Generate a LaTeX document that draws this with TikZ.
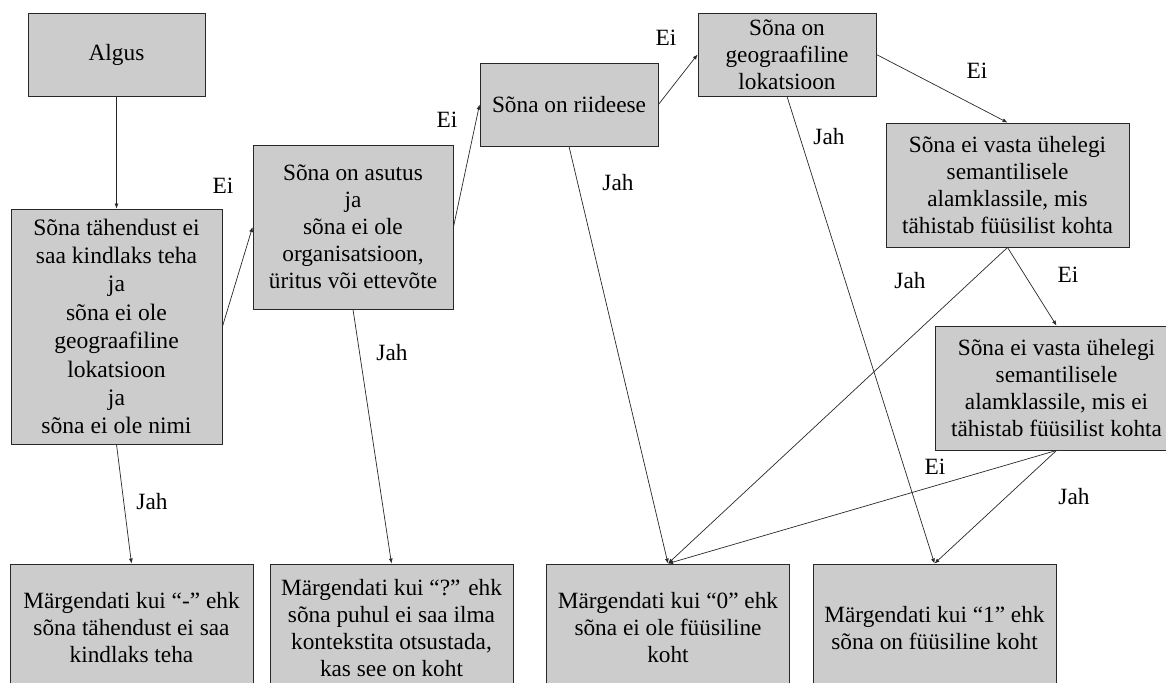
\documentclass[tikz,border=0pt]{standalone}
\usepackage{fontspec}
\setmainfont{Liberation Serif}
\usepackage{tikz}
\usepackage{xcolor}
\usetikzlibrary{arrows.meta,positioning,calc}
\definecolor{kastgray}{RGB}{204,204,204}
\definecolor{joonegray}{RGB}{40,40,40}

\tikzset{
  kast/.style={draw=joonegray, line width=0.9pt, fill=kastgray, inner sep=0pt,
    align=center, font=\fontsize{23.3}{27}\selectfont},
  silt/.style={inner sep=0pt, font=\fontsize{23.3}{27}\selectfont},
  noolejoon/.style={draw=joonegray, line width=0.7pt, -{Latex[length=5pt,width=4pt]}}
}

\begin{document}
\begin{tikzpicture}[x=1pt,y=-1pt]
  \useasboundingbox (0,0) rectangle (1166,682);

  % Otsustuskastid
  \node[kast, minimum width=177, minimum height=83] (algus) at (116.5,54.5) {Algus};
  \node[kast, minimum width=211, minimum height=235, font=\fontsize{23.6}{28.4}\selectfont] (tahendus) at (116.5,326.5)
    {Sõna tähendust ei\\saa kindlaks teha\\ja\\sõna ei ole\\geograafiline\\lokatsioon\\ja\\sõna ei ole nimi};
  \node[kast, minimum width=200, minimum height=164] (asutus) at (353,227)
    {Sõna on asutus\\ja\\sõna ei ole\\organisatsioon,\\üritus või ettevõte};
  \node[kast, minimum width=178, minimum height=83] (riideese) at (569,104.5) {Sõna on riideese};
  \node[kast, minimum width=178, minimum height=83] (geo) at (787,54.5)
    {Sõna on\\geograafiline\\lokatsioon};
  \node[kast, minimum width=243, minimum height=124] (fyys) at (1007.5,185)
    {Sõna ei vasta ühelegi\\semantilisele\\alamklassile, mis\\tähistab füüsilist kohta};
  \node[kast, minimum width=243, minimum height=124] (mittefyys) at (1056.5,388)
    {Sõna ei vasta ühelegi\\semantilisele\\alamklassile, mis ei\\tähistab füüsilist kohta};

  % Märgendid
  \node[kast, minimum width=243, minimum height=128] (markA) at (131.5,628)
    {Märgendati kui “-” ehk\\sõna tähendust ei saa\\kindlaks teha};
  \node[kast, minimum width=243, minimum height=128] (markB) at (391.5,628)
    {Märgendati kui “?” ehk\\sõna puhul ei saa ilma\\kontekstita otsustada,\\kas see on koht};
  \node[kast, minimum width=243, minimum height=128] (markC) at (668,628)
    {Märgendati kui “0” ehk\\sõna ei ole füüsiline\\koht};
  \node[kast, minimum width=243, minimum height=128] (markD) at (934.5,628)
    {Märgendati kui “1” ehk\\sõna on füüsiline koht};

  % Nooled
  \draw[noolejoon] (algus.south) -- (tahendus.north);
  \draw[noolejoon] (tahendus.east) -- (asutus.west);
  \draw[noolejoon] (asutus.east) -- (riideese.west);
  \draw[noolejoon] (riideese.east) -- (geo.west);
  \draw[noolejoon] (geo.east) -- (fyys.north);
  \draw[noolejoon] (geo.south) -- (markD.north);
  \draw[noolejoon] (riideese.south) -- (markC.north);
  \draw[noolejoon] (asutus.south) -- (markB.north);
  \draw[noolejoon] (tahendus.south) -- (markA.north);
  \draw[noolejoon] (fyys.south) -- (markC.north);
  \draw[noolejoon] (fyys.south) -- (mittefyys.north);
  \draw[noolejoon] (mittefyys.south) -- (markC.north);
  \draw[noolejoon] (mittefyys.south) -- (markD.north);

  % Sildid
  \node[silt] (ei1) at (223,186) {Ei};
  \node[silt] (ei2) at (447,120) {Ei};
  \node[silt] (ei3) at (666,38) {Ei};
  \node[silt] (ei4) at (977,71) {Ei};
  \node[silt] (ei5) at (1068,275) {Ei};
  \node[silt] (ei6) at (935,467) {Ei};
  \node[silt] (jah1) at (152,502) {Jah};
  \node[silt] (jah2) at (392,353) {Jah};
  \node[silt] (jah3) at (618,183) {Jah};
  \node[silt] (jah4) at (829,137) {Jah};
  \node[silt] (jah5) at (910,281) {Jah};
  \node[silt] (jah6) at (1074,497) {Jah};
\end{tikzpicture}
\end{document}
